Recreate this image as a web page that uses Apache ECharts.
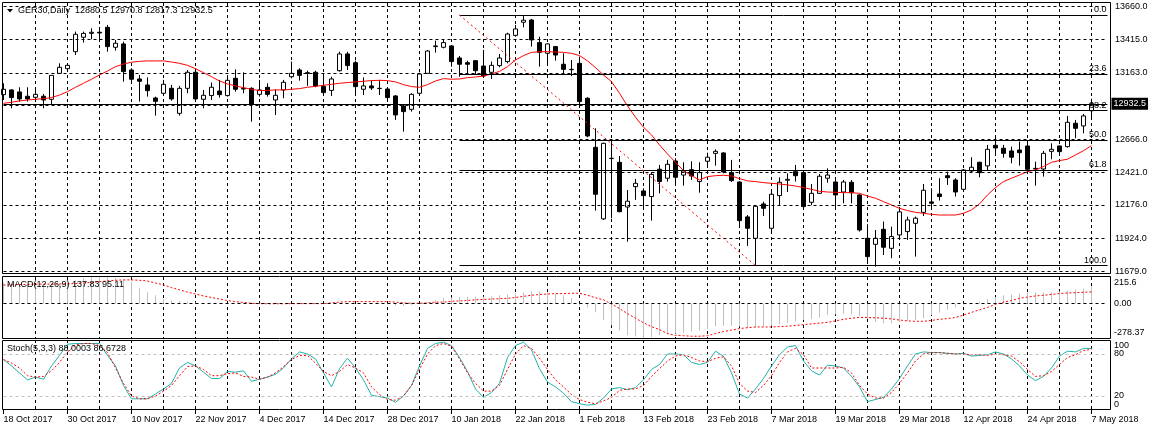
<!DOCTYPE html>
<html><head><meta charset="utf-8">
<script src="https://cdn.jsdelivr.net/npm/echarts@6/dist/echarts.min.js"></script>
<style>html,body{margin:0;padding:0;background:#fff}#c{width:1152px;height:430px}</style>
</head><body><div id="c"></div>
<script>
const dates = ['18 Oct 2017','19 Oct 2017','20 Oct 2017','23 Oct 2017','24 Oct 2017','25 Oct 2017','26 Oct 2017','27 Oct 2017','30 Oct 2017','1 Nov 2017','2 Nov 2017','3 Nov 2017','6 Nov 2017','7 Nov 2017','8 Nov 2017','9 Nov 2017','10 Nov 2017','13 Nov 2017','14 Nov 2017','15 Nov 2017','16 Nov 2017','17 Nov 2017','20 Nov 2017','21 Nov 2017','22 Nov 2017','23 Nov 2017','24 Nov 2017','27 Nov 2017','28 Nov 2017','29 Nov 2017','30 Nov 2017','1 Dec 2017','4 Dec 2017','5 Dec 2017','6 Dec 2017','7 Dec 2017','8 Dec 2017','11 Dec 2017','12 Dec 2017','13 Dec 2017','14 Dec 2017','15 Dec 2017','18 Dec 2017','19 Dec 2017','20 Dec 2017','21 Dec 2017','22 Dec 2017','27 Dec 2017','28 Dec 2017','29 Dec 2017','2 Jan 2018','3 Jan 2018','4 Jan 2018','5 Jan 2018','8 Jan 2018','9 Jan 2018','10 Jan 2018','11 Jan 2018','12 Jan 2018','15 Jan 2018','16 Jan 2018','17 Jan 2018','18 Jan 2018','19 Jan 2018','22 Jan 2018','23 Jan 2018','24 Jan 2018','25 Jan 2018','26 Jan 2018','29 Jan 2018','30 Jan 2018','31 Jan 2018','1 Feb 2018','2 Feb 2018','5 Feb 2018','6 Feb 2018','7 Feb 2018','8 Feb 2018','9 Feb 2018','12 Feb 2018','13 Feb 2018','14 Feb 2018','15 Feb 2018','16 Feb 2018','19 Feb 2018','20 Feb 2018','21 Feb 2018','22 Feb 2018','23 Feb 2018','26 Feb 2018','27 Feb 2018','28 Feb 2018','1 Mar 2018','2 Mar 2018','5 Mar 2018','6 Mar 2018','7 Mar 2018','8 Mar 2018','9 Mar 2018','12 Mar 2018','13 Mar 2018','14 Mar 2018','15 Mar 2018','16 Mar 2018','19 Mar 2018','20 Mar 2018','21 Mar 2018','22 Mar 2018','23 Mar 2018','26 Mar 2018','27 Mar 2018','28 Mar 2018','29 Mar 2018','3 Apr 2018','4 Apr 2018','5 Apr 2018','6 Apr 2018','9 Apr 2018','10 Apr 2018','11 Apr 2018','12 Apr 2018','13 Apr 2018','16 Apr 2018','17 Apr 2018','18 Apr 2018','19 Apr 2018','20 Apr 2018','23 Apr 2018','24 Apr 2018','25 Apr 2018','26 Apr 2018','27 Apr 2018','30 Apr 2018','2 May 2018','3 May 2018','4 May 2018','7 May 2018'];

const openV = [13001,13036,13021,12989,12981,12989,12966,13160,13195,13322,13430,13459,13467,13504,13355,13380,13185,13118,13073,12976,13011,13048,12861,13048,13168,12966,12994,13028,12994,13123,13048,13048,13003,13056,12961,13036,13135,13185,13165,13168,13063,13033,13180,13305,13240,13041,13066,13046,13043,12991,12916,12891,13011,13160,13360,13355,13365,13275,13240,13255,13215,13168,13218,13248,13444,13542,13559,13390,13310,13360,13228,13190,13235,12974,12607,12072,12525,12495,12161,12313,12281,12239,12443,12376,12505,12400,12440,12351,12503,12562,12565,12418,12348,12087,11927,12184,12002,12246,12361,12425,12418,12196,12263,12376,12348,12273,12346,12251,11927,11882,11994,11852,11952,11977,12039,12121,12199,12258,12395,12363,12293,12430,12495,12468,12622,12600,12580,12587,12617,12445,12445,12577,12617,12612,12787,12767,12880.5];
const highV = [13086,13041,13056,13056,13041,13006,13145,13235,13235,13472,13472,13497,13484,13522,13410,13397,13198,13148,13130,12986,13111,13073,13066,13185,13198,13036,13091,13111,13130,13190,13168,13056,13111,13086,13041,13111,13248,13198,13180,13180,13155,13135,13322,13322,13255,13130,13106,13111,13056,12998,12924,13011,13165,13335,13405,13415,13372,13290,13255,13260,13335,13248,13305,13464,13522,13596,13567,13434,13385,13365,13310,13260,13285,12981,12749,12642,12650,12542,12288,12371,12301,12420,12475,12513,12525,12495,12503,12495,12567,12592,12570,12513,12353,12101,12176,12201,12276,12383,12413,12475,12425,12333,12408,12450,12363,12363,12363,12256,12032,11989,12052,12014,12139,12089,12089,12333,12301,12376,12425,12376,12445,12533,12500,12625,12692,12625,12612,12650,12650,12500,12580,12637,12620,12842,12812,12857,12970.8];
const lowV = [12961,12899,12949,12949,12949,12899,12931,13155,13185,13297,13390,13415,13410,13322,13330,13098,13091,12949,12986,12844,12994,12956,12844,13011,12961,12899,12961,12979,12986,13023,13011,12799,12986,12986,12849,12974,13123,13106,13066,13056,12991,12991,13173,13185,12998,12998,13036,12998,12949,12812,12724,12874,12998,13160,13315,13347,13210,13135,13155,13155,13130,13118,13205,13235,13434,13504,13360,13210,13223,13255,13160,13140,12916,12682,12134,12064,12077,12121,11902,12214,12151,12059,12263,12351,12326,12321,12363,12268,12470,12470,12413,12348,12007,11870,11728,12094,11972,12176,12273,12351,12159,12174,12258,12343,12151,12189,12189,11977,11748,11715,11802,11778,11915,11915,11790,12094,12151,12209,12326,12239,12276,12418,12383,12430,12557,12530,12488,12470,12425,12321,12388,12518,12562,12605,12675,12712,12817.3];
const closeV = [13041,12979,12969,12969,13003,12961,13145,13205,13220,13452,13459,13467,13462,13360,13385,13173,13116,13101,13031,12951,13078,12969,13048,13168,12969,12996,13056,13001,13108,13041,13043,12929,13036,13003,12996,13093,13160,13145,13160,13066,13016,13118,13305,13218,13061,13066,13051,13048,12979,12849,12874,13003,13155,13327,13365,13390,13248,13228,13228,13180,13140,13220,13275,13454,13492,13557,13410,13317,13380,13297,13190,13188,12949,12692,12256,12637,12523,12126,12204,12338,12246,12405,12351,12480,12383,12430,12393,12418,12533,12577,12423,12358,12059,12002,12166,12151,12256,12346,12368,12395,12164,12263,12391,12400,12251,12348,12268,11989,11790,11927,11860,11940,12124,12064,12077,12286,12189,12239,12380,12273,12438,12458,12418,12592,12602,12562,12533,12567,12443,12450,12562,12592,12575,12794,12749,12842,12932.5];

const maV = [12936,12944,12954,12961,12966,12971,12979,12998,13023,13056,13086,13116,13148,13178,13210,13230,13243,13250,13253,13253,13253,13245,13235,13220,13195,13165,13135,13103,13081,13066,13053,13041,13031,13033,13036,13036,13041,13046,13056,13063,13071,13078,13086,13091,13096,13101,13106,13108,13106,13096,13076,13061,13056,13076,13103,13121,13116,13118,13128,13133,13140,13155,13175,13210,13260,13293,13317,13322,13322,13320,13317,13310,13293,13253,13203,13148,13098,13011,12916,12832,12757,12700,12625,12557,12495,12433,12395,12363,12388,12395,12398,12393,12373,12356,12351,12343,12338,12333,12326,12318,12306,12293,12278,12273,12271,12268,12268,12263,12243,12226,12201,12176,12151,12134,12121,12114,12106,12101,12101,12101,12114,12139,12184,12251,12306,12351,12376,12400,12425,12438,12463,12495,12508,12518,12550,12582,12620];

const macdMain = [170,165,160,155,150,145,150,160,170,190,205,213,215,215,210,195,180,124,93,68,37,28,22,16,10,6,4,2,0,-2,-3,-5,-4,-3,-2,0,2,3,2,0,-2,0,5,6,2,0,-2,-3,-6,-15,-20,-12,0,12,31,43,50,53,53,56,56,59,68,74,84,93,99,99,93,84,68,43,-15,-31,-70,-133,-175,-217,-257,-267,-278,-273,-257,-251,-242,-236,-226,-217,-205,-186,-180,-180,-186,-195,-195,-186,-180,-164,-155,-143,-133,-124,-112,-93,-87,-81,-87,-102,-124,-149,-158,-158,-149,-143,-133,-118,-93,-71,-50,-31,-9,6,16,37,53,68,74,81,90,93,93,93,99,105,115,121,137.83];
const macdSignal = [150,152,154,156,157,158,158,159,160,163,167,172,178,184,189,192,192,189,183,167,152,130,112,93,78,62,50,37,25,16,9,3,0,-1,-1,-1,0,0,0,0,0,6,12,16,16,16,16,16,16,12,6,3,3,6,12,12,19,22,25,31,34,37,40,43,50,59,68,74,78,81,81,84,84,68,47,31,-3,-40,-81,-118,-155,-186,-211,-242,-257,-260,-264,-264,-260,-242,-226,-214,-202,-195,-189,-189,-189,-186,-183,-177,-170,-164,-158,-152,-140,-127,-118,-112,-112,-115,-118,-124,-133,-140,-143,-143,-136,-127,-121,-112,-93,-71,-50,-31,-6,12,25,43,53,62,68,74,82,86,89,92,95.11];

const stochMain = [72,63,53,43,47,44,63,78,94,95,95,95,95,78,63,35,16,16,16,23,30,38,60,68,63,54,45,45,55,54,56,41,44,47,51,60,73,83,80,73,53,33,59,74,60,43,21,19,17,11,20,35,63,88,95,97,92,75,55,30,18,25,38,75,92,97,86,59,40,33,24,12,9,7,8,17,30,32,29,32,43,58,65,80,80,79,68,65,68,84,77,53,23,17,30,45,63,79,90,92,70,56,50,64,63,60,48,33,12,15,18,30,45,63,80,83,82,82,81,80,81,77,78,79,83,80,73,63,50,42,48,60,77,84,83,88,88.0003];
const stochSignal = [72,67,60,49,47,48,56,68,83,93,95,95,92,82,60,38,20,16,16,20,27,35,49,62,63,58,49,49,52,53,48,47,44,47,53,62,72,78,78,67,55,49,55,65,60,53,33,22,15,14,20,35,58,80,92,95,91,73,53,38,27,27,35,58,80,92,88,74,58,43,33,22,15,11,9,13,18,28,30,30,35,48,59,70,77,79,75,70,69,74,76,63,38,27,25,35,49,68,83,88,79,60,60,60,60,61,53,35,23,17,17,25,38,53,70,80,82,82,81,80,80,79,79,78,80,79,77,69,58,48,49,55,65,75,79,85,86.6728];

const priceTicks = [13660,13415,13163,12918,12666,12421,12176,11924,11679];
const priceTickLabels = ['13660.0','13415.0','13163.0','','12666.0','12421.0','12176.0','11924.0','11679.0'];
const macdTicks = [215.6, 0, -278.37];
const macdTickLabels = ['215.6','0.00','-278.37'];
const stochTicks = [100, 80, 20, 0];
const stochTickLabels = ['100','80','20','0'];
const stochLevels = [80, 20];
const fibLevels = ['0.0','23.6','38.2','50.0','61.8','100.0'];
const fibPrices = [13596,13154,12881,12660,12438,11723];
const fibStartIdx = 57, fibEndIdx = 94;
const lastPrice = 12932.5;
const titleText = 'GER30,Daily  12880.5 12970.8 12817.3 12932.5';
const macdText = 'MACD(12,26,9) 137.83 95.11';
const stochText = 'Stoch(5,3,3) 88.0003 86.6728';

const FONT = '"Liberation Sans", Arial, sans-serif';
const cats = dates.concat(['', '']);
const candles = dates.map((d, i) => [openV[i], closeV[i], lowV[i], highV[i]]);
const lastIdx = cats.length - 1;

function xAx(i) {
  return {
    type: 'category', gridIndex: i, data: cats, boundaryGap: false,
    axisLine: { show: false },
    axisTick: { show: i === 2, interval: (idx) => idx % 8 === 0 && idx < dates.length, length: 4, lineStyle: { color: '#000' } },
    axisLabel: { show: i === 2, interval: (idx) => idx % 8 === 0, align: 'left', color: '#000', fontSize: 9, fontFamily: FONT, margin: 5 },
    splitLine: { show: true, interval: (idx) => idx % 4 === 0 && idx > 0 && idx < dates.length, lineStyle: { color: '#000', type: [3, 3], width: 1 } }
  };
}

const chart = echarts.init(document.getElementById('c'), null, { renderer: 'canvas' });
const option = {
  animation: false, backgroundColor: '#fff',
  grid: [
    { left: 3.5, top: 3, width: 1104, height: 271 },
    { left: 3.5, top: 277, width: 1104, height: 61 },
    { left: 3.5, top: 340, width: 1104, height: 70 }
  ],
  xAxis: [0, 1, 2].map(xAx),
  yAxis: [
    { gridIndex: 0, type: 'value', min: 11660, max: 13686, show: false },
    { gridIndex: 1, type: 'value', min: -278.37, max: 215.6, show: false },
    { gridIndex: 2, type: 'value', min: 0, max: 100, show: false }
  ],
  series: [
    { type: 'line', xAxisIndex: 0, yAxisIndex: 0, data: [], z: 1, silent: true,
      markLine: { silent: true, symbol: ['none', 'none'], label: { show: false },
        lineStyle: { color: '#000', type: [3, 3], width: 1 },
        data: priceTicks.map(v => ({ yAxis: v })) } },
    { type: 'candlestick', xAxisIndex: 0, yAxisIndex: 0, data: candles, barWidth: 4, z: 3,
      itemStyle: { color: '#fff', color0: '#000', borderColor: '#000', borderColor0: '#000', borderWidth: 1 } },
    { type: 'line', xAxisIndex: 0, yAxisIndex: 0, data: maV, z: 4, showSymbol: false, symbol: 'none',
      lineStyle: { color: '#ff0000', width: 1 } },
    { type: 'line', xAxisIndex: 0, yAxisIndex: 0, data: [], z: 5, silent: true,
      markLine: { silent: true, symbol: ['none', 'none'],
        lineStyle: { color: '#000', type: 'solid', width: 1 },
        label: { show: true, position: 'insideEndTop', formatter: '{b}', color: '#000', fontSize: 9, fontFamily: FONT, distance: 1 },
        data: fibLevels.map((lv, i) => [{ name: lv, coord: [fibStartIdx, fibPrices[i]] }, { coord: [lastIdx, fibPrices[i]] }])
          .concat([[{ coord: [fibStartIdx, fibPrices[0]], lineStyle: { color: '#ff0000', type: [2, 3], width: 1 }, label: { show: false } },
                    { coord: [fibEndIdx, fibPrices[5]] }]])
          .concat([{ yAxis: lastPrice, lineStyle: { color: '#000', type: 'solid', width: 1 },
                     label: { show: true, position: 'end', formatter: String(lastPrice), color: '#fff', backgroundColor: '#000',
                              padding: [2, 2, 1, 2], fontSize: 9, fontFamily: FONT, distance: 4 } }])
      } },
    { type: 'bar', xAxisIndex: 1, yAxisIndex: 1, data: macdMain, barWidth: 1, z: 2,
      itemStyle: { color: '#c0c0c0' },
      markLine: { silent: true, symbol: ['none', 'none'], label: { show: false },
        lineStyle: { color: '#000', type: [3, 3], width: 1 }, data: [{ yAxis: 0 }] } },
    { type: 'line', xAxisIndex: 1, yAxisIndex: 1, data: macdSignal, z: 3, showSymbol: false, symbol: 'none',
      lineStyle: { color: '#ff0000', width: 1, type: [2, 2] } },
    { type: 'line', xAxisIndex: 2, yAxisIndex: 2, data: stochMain, z: 3, showSymbol: false, symbol: 'none',
      lineStyle: { color: '#20b2aa', width: 1 },
      markLine: { silent: true, symbol: ['none', 'none'], label: { show: false },
        lineStyle: { color: '#c0c0c0', type: [3, 3], width: 1 }, data: stochLevels.map(v => ({ yAxis: v })) } },
    { type: 'line', xAxisIndex: 2, yAxisIndex: 2, data: stochSignal, z: 4, showSymbol: false, symbol: 'none',
      lineStyle: { color: '#ff0000', width: 1, type: [2, 2] } }
  ]
};
chart.setOption(option);

const txt = (x, y, text, va, extra) => Object.assign({ type: 'text', x: x, y: y, silent: true, z: 100,
  style: Object.assign({ text: text, fill: '#000', font: '9px ' + FONT, textVerticalAlign: va || 'middle', verticalAlign: va || 'middle' }, extra || {}) });
const g = [];
[[2.5, 2.5, 1108, 271], [2.5, 276.5, 1108, 62], [2.5, 340.5, 1108, 69]].forEach(r => {
  g.push({ type: 'rect', shape: { x: r[0], y: r[1], width: r[2], height: r[3] }, style: { fill: null, stroke: '#000', lineWidth: 1 }, silent: true, z: 90 });
});
priceTicks.forEach((v, i) => {
  if (!priceTickLabels[i]) return;
  g.push(txt(1115, chart.convertToPixel({ yAxisIndex: 0 }, v), priceTickLabels[i]));
});
macdTicks.forEach((v, i) => {
  const y = chart.convertToPixel({ yAxisIndex: 1 }, v);
  g.push(txt(1114, i === 0 ? y + 1 : (i === 2 ? y - 1 : y), macdTickLabels[i], i === 0 ? 'top' : (i === 2 ? 'bottom' : 'middle')));
});
stochTicks.forEach((v, i) => {
  const y = chart.convertToPixel({ yAxisIndex: 2 }, v);
  const va = v === 100 ? 'top' : (v === 0 ? 'bottom' : 'middle');
  g.push(txt(1114, v === 100 ? y + 1 : (v === 0 ? y - 1 : y), stochTickLabels[i], va));
});
g.push({ type: 'polygon', shape: { points: [[7, 9], [13, 9], [10, 12.5]] }, style: { fill: '#000' }, silent: true, z: 100 });
g.push(txt(18, 10.5, titleText));
g.push(txt(7, 285, macdText));
g.push(txt(7, 349, stochText));
chart.setOption({ graphic: g });
</script>
</body></html>
